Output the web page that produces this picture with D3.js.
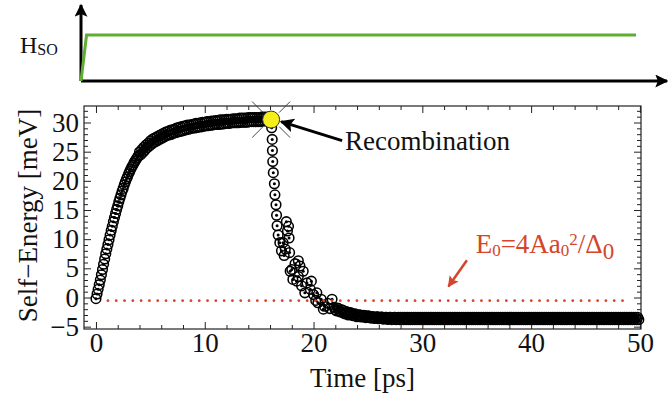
<!DOCTYPE html>
<html>
<head>
<meta charset="UTF-8">
<script src="https://d3js.org/d3.v7.min.js"></script>
<style>
  body { margin: 0; background: #fff; }
  text { font-family: "Liberation Serif", "DejaVu Serif", serif; }
</style>
</head>
<body>
<svg class="chart"></svg>
<script>

var width = 668,
    height = 398;

// build-up of the self-energy, t = 0 .. 16 ps every 0.1 ps
// (the band is thick after ~4 ps, so neighbouring points spread a little)
var riseStart = 0, riseStep = 0.1;
var riseE = [
  -0.2, 0.6, 1.4, 2.2, 3.0, 3.9, 4.8, 5.7, 6.6, 7.5,
  8.3, 9.1, 9.9, 10.7, 11.5, 12.2, 13.0, 13.7, 14.4, 15.1,
  15.7, 16.4, 17.0, 17.6, 18.2, 18.7, 19.3, 19.8, 20.3, 20.7,
  21.2, 21.6, 22.0, 22.4, 22.7, 23.1, 23.4, 23.7, 24.0, 24.3,
  24.95, 24.45, 25.35, 24.85, 25.75, 25.25, 26.15, 25.65, 26.45, 25.95,
  26.85, 26.25, 27.15, 26.55, 27.35, 26.75, 27.55, 26.95, 27.75, 27.15,
  27.95, 27.35, 28.15, 27.55, 28.35, 27.75, 28.45, 27.85, 28.65, 27.95,
  28.75, 28.15, 28.85, 28.25, 29.05, 28.35, 29.15, 28.45, 29.25, 28.55,
  29.35, 28.65, 29.45, 28.75, 29.55, 28.85, 29.55, 28.95, 29.65, 29.05,
  29.75, 29.05, 29.85, 29.15, 29.85, 29.25, 29.95, 29.25, 30.05, 29.35,
  30.05, 29.45, 30.15, 29.45, 30.15, 29.55, 30.25, 29.55, 30.25, 29.65,
  30.35, 29.65, 30.35, 29.65, 30.45, 29.75, 30.45, 29.75, 30.45, 29.85,
  30.55, 29.85, 30.55, 29.85, 30.55, 29.95, 30.65, 29.95, 30.65, 29.95,
  30.65, 29.95, 30.75, 30.05, 30.75, 30.05, 30.75, 30.05, 30.75, 30.05,
  30.85, 30.15, 30.85, 30.15, 30.85, 30.15, 30.85, 30.15, 30.85, 30.15,
  30.85, 30.15, 30.95, 30.25, 30.95, 30.25, 30.95, 30.25, 30.95, 30.25,
  30.95
];

// collapse after recombination (scattered points)
var decayT = [16.15, 16.2, 16.22, 16.25, 16.3, 16.4, 16.45, 16.55, 16.6, 16.65,
              16.75, 16.9, 17.05, 17.2, 17.3, 17.4, 17.5, 17.6, 17.7, 17.75,
              17.8, 17.85, 18.0, 18.1, 18.3, 18.45, 18.6, 18.6, 18.75, 18.9,
              19.05, 19.2, 19.4, 19.7, 19.8, 20.0, 20.2, 20.3, 20.4, 20.7,
              21.0, 21.3, 21.7, 20.9, 21.5];
var decayE = [29.1, 27.1, 25.2, 23.3, 21.4, 19.5, 17.6, 15.9, 14.1, 12.3,
              10.7, 9.4, 8.0, 9.4, 7.2, 8.3, 13.0, 11.4, 12.2, 10.2,
              7.7, 4.5, 4.8, 3.1, 5.8, 2.8, 6.3, 3.6, 5.4, 2.0,
              4.5, 0.8, 2.5, 1.4, 2.8, 0.5, -0.5, 0.8, -0.9, -0.3,
              -1.5, -1.0, -0.3, -2.0, -1.9];

// relaxation tail, t = 21.9 .. 49.9 every 0.1 ps
var tailStart = 21.9, tailStep = 0.1;
var tailE = [
  -1.7, -2.1, -2.3, -1.8, -1.9, -2.4, -2.5, -2.1, -2.2, -2.7,
  -2.8, -2.4, -2.5, -3.0, -2.9, -2.6, -2.7, -3.1, -3.1, -2.8,
  -2.9, -3.3, -3.2, -2.95, -3.0, -3.35, -3.3, -3.05, -3.1, -3.45,
  -3.4, -3.15, -3.2, -3.5, -3.5, -3.25, -3.3, -3.6, -3.5, -3.3,
  -3.3, -3.65, -3.6, -3.35, -3.35, -3.7, -3.65, -3.4, -3.4, -3.75,
  -3.7, -3.4, -3.4, -3.8, -3.75, -3.4, -3.4, -3.8, -3.75, -3.4,
  -3.8, -3.4, -3.8, -3.4, -3.8, -3.4, -3.8, -3.4, -3.8, -3.4,
  -3.8, -3.4, -3.8, -3.4, -3.8, -3.4, -3.8, -3.4, -3.8, -3.4,
  -3.8, -3.4, -3.8, -3.4, -3.8, -3.4, -3.8, -3.4, -3.8, -3.4,
  -3.8, -3.4, -3.8, -3.4, -3.8, -3.4, -3.8, -3.4, -3.8, -3.4,
  -3.8, -3.4, -3.8, -3.4, -3.8, -3.4, -3.8, -3.4, -3.8, -3.4,
  -3.8, -3.4, -3.8, -3.4, -3.8, -3.4, -3.8, -3.4, -3.8, -3.4,
  -3.8, -3.4, -3.8, -3.4, -3.8, -3.4, -3.8, -3.4, -3.8, -3.4,
  -3.8, -3.4, -3.8, -3.4, -3.8, -3.4, -3.8, -3.4, -3.8, -3.4,
  -3.8, -3.4, -3.8, -3.4, -3.8, -3.4, -3.8, -3.4, -3.8, -3.4,
  -3.8, -3.4, -3.8, -3.4, -3.8, -3.4, -3.8, -3.4, -3.8, -3.4,
  -3.8, -3.4, -3.8, -3.4, -3.8, -3.4, -3.8, -3.4, -3.8, -3.4,
  -3.8, -3.4, -3.8, -3.4, -3.8, -3.4, -3.8, -3.4, -3.8, -3.4,
  -3.8, -3.4, -3.8, -3.4, -3.8, -3.4, -3.8, -3.4, -3.8, -3.4,
  -3.8, -3.4, -3.8, -3.4, -3.8, -3.4, -3.8, -3.4, -3.8, -3.4,
  -3.8, -3.4, -3.8, -3.4, -3.8, -3.4, -3.8, -3.4, -3.8, -3.4,
  -3.8, -3.4, -3.8, -3.4, -3.8, -3.4, -3.8, -3.4, -3.8, -3.4,
  -3.8, -3.4, -3.8, -3.4, -3.8, -3.4, -3.8, -3.4, -3.8, -3.4,
  -3.8, -3.4, -3.8, -3.4, -3.8, -3.4, -3.8, -3.4, -3.8, -3.4,
  -3.8, -3.4, -3.8, -3.4, -3.8, -3.4, -3.8, -3.4, -3.8, -3.4,
  -3.8, -3.4, -3.8, -3.4, -3.8, -3.4, -3.8, -3.4, -3.8, -3.4,
  -3.8, -3.4, -3.8, -3.4, -3.8, -3.4, -3.8, -3.4, -3.8, -3.4,
  -3.8, -3.4, -3.8, -3.4, -3.8, -3.4, -3.8, -3.4, -3.8, -3.4,
  -3.8
];

var recombination = {t: 16.1, e: 30.5};
var e0Level = -0.55, e0Span = [1.1, 49.1];
var e0Arrow = [[34.1, 6.4], [32.4, 1.9]];

var xTicks = [0, 10, 20, 30, 40, 50];
var yTicks = [-5, 0, 5, 10, 15, 20, 25, 30];

// H_SO switched on at t = 0 (schematic, arbitrary units)
var hsoT = [0, 1, 100];
var hsoV = [0, 1, 1];

var points = [];
riseE.forEach(function(e, i) { points.push({t: riseStart + i * riseStep, e: e}); });
decayT.forEach(function(t, i) { points.push({t: t, e: decayE[i]}); });
tailE.forEach(function(e, i) { points.push({t: tailStart + i * tailStep, e: e}); });

var chart = d3.select(".chart")
  .attr("width", width)
  .attr("height", height);

chart.append("rect").attr("width", width).attr("height", height).attr("fill", "#fff");

var defs = chart.append("defs");
function marker(id, color, w, h) {
  defs.append("marker")
    .attr("id", id)
    .attr("viewBox", "0 0 10 10")
    .attr("refX", 9).attr("refY", 5)
    .attr("markerUnits", "userSpaceOnUse")
    .attr("markerWidth", w).attr("markerHeight", h)
    .attr("orient", "auto")
    .append("path").attr("d", "M0,0 L10,5 L0,10 L2,5 z").attr("fill", color);
}
marker("headAxis", "#000", 14, 13);
marker("headRec", "#000", 18, 14);
marker("headRed", "#d4452b", 12, 11);

// ---- top schematic ----
var hx = d3.scaleLinear().domain([0, 100]).range([81, 636]);
var hy = d3.scaleLinear().domain([0, 1]).range([81, 35]);

chart.append("line")
  .attr("x1", hx(0)).attr("y1", hy(0))
  .attr("x2", hx(0)).attr("y2", 5)
  .attr("stroke", "#000").attr("stroke-width", 3)
  .attr("marker-end", "url(#headAxis)");
chart.append("line")
  .attr("x1", hx(0)).attr("y1", hy(0))
  .attr("x2", 667).attr("y2", hy(0))
  .attr("stroke", "#000").attr("stroke-width", 3)
  .attr("marker-end", "url(#headAxis)");

chart.append("path")
  .datum(hsoT.map(function(t, i) { return [t, hsoV[i]]; }))
  .attr("fill", "none")
  .attr("stroke", "#5fae34")
  .attr("stroke-width", 3)
  .attr("d", d3.line().x(function(d) { return hx(d[0]); }).y(function(d) { return hy(d[1]); }));

var hso = chart.append("text").attr("x", 20).attr("y", 53).attr("font-size", 24).attr("fill", "#111");
hso.append("tspan").text("H");
hso.append("tspan").attr("font-size", 16).attr("dy", 2).text("SO");

// ---- main plot ----
var plotLeft = 84, plotRight = 641, plotTop = 106, plotBottom = 329;
var x = d3.scaleLinear().domain([-1.1, 50.1]).range([plotLeft, plotRight]);
var y = d3.scaleLinear().domain([-5.4, 32.83]).range([plotBottom, plotTop]);

function fmt(d) { return d < 0 ? "\u2212" + Math.abs(d) : String(d); }

var xMinor = d3.range(0, 51, 2).filter(function(d) { return d % 10 !== 0; });
var yMinor = d3.range(-5, 33, 1).filter(function(d) { return d % 5 !== 0; });

function styleAxis(g) {
  g.attr("font-family", "'Liberation Serif', serif");
  g.select(".domain").remove();
  g.selectAll("line").attr("stroke", "#222");
  g.selectAll("text").attr("font-size", 27).attr("fill", "#111")
    .style("font-family", "'Liberation Serif', serif");
}

chart.append("g").attr("transform", "translate(0," + plotBottom + ")")
  .call(d3.axisBottom(x).tickValues(xTicks).tickFormat(fmt).tickSizeInner(-7).tickSizeOuter(0).tickPadding(4))
  .call(styleAxis);
chart.append("g").attr("transform", "translate(0," + plotBottom + ")")
  .call(d3.axisBottom(x).tickValues(xMinor).tickFormat("").tickSizeInner(-4).tickSizeOuter(0))
  .call(styleAxis);
chart.append("g").attr("transform", "translate(0," + plotTop + ")")
  .call(d3.axisTop(x).tickValues(xTicks).tickFormat("").tickSizeInner(-7).tickSizeOuter(0))
  .call(styleAxis);
chart.append("g").attr("transform", "translate(0," + plotTop + ")")
  .call(d3.axisTop(x).tickValues(xMinor).tickFormat("").tickSizeInner(-4).tickSizeOuter(0))
  .call(styleAxis);

chart.append("g").attr("transform", "translate(" + plotLeft + ",0)")
  .call(d3.axisLeft(y).tickValues(yTicks).tickFormat(fmt).tickSizeInner(-7).tickSizeOuter(0).tickPadding(5))
  .call(styleAxis);
chart.append("g").attr("transform", "translate(" + plotLeft + ",0)")
  .call(d3.axisLeft(y).tickValues(yMinor).tickFormat("").tickSizeInner(-4).tickSizeOuter(0))
  .call(styleAxis);
chart.append("g").attr("transform", "translate(" + plotRight + ",0)")
  .call(d3.axisRight(y).tickValues(yTicks).tickFormat("").tickSizeInner(-7).tickSizeOuter(0))
  .call(styleAxis);
chart.append("g").attr("transform", "translate(" + plotRight + ",0)")
  .call(d3.axisRight(y).tickValues(yMinor).tickFormat("").tickSizeInner(-4).tickSizeOuter(0))
  .call(styleAxis);

chart.append("rect")
  .attr("x", plotLeft).attr("y", plotTop)
  .attr("width", plotRight - plotLeft).attr("height", plotBottom - plotTop)
  .attr("fill", "none").attr("stroke", "#222").attr("stroke-width", 1.2);

// data: open circles with a dot
var pts = chart.append("g").attr("class", "points");
pts.selectAll("circle.ring")
  .data(points)
  .enter().append("circle")
  .attr("class", "ring")
  .attr("cx", function(d) { return x(d.t); })
  .attr("cy", function(d) { return y(d.e); })
  .attr("r", 4.8)
  .attr("fill", "none")
  .attr("stroke", "#000")
  .attr("stroke-width", 1.55);
pts.selectAll("circle.dot")
  .data(points)
  .enter().append("circle")
  .attr("class", "dot")
  .attr("cx", function(d) { return x(d.t); })
  .attr("cy", function(d) { return y(d.e); })
  .attr("r", 1.5)
  .attr("fill", "#000");

// E0 reference level
chart.append("line")
  .attr("x1", x(e0Span[0])).attr("x2", x(e0Span[1]))
  .attr("y1", y(e0Level)).attr("y2", y(e0Level))
  .attr("stroke", "#d9472b")
  .attr("stroke-width", 2.8)
  .attr("stroke-linecap", "round")
  .attr("stroke-dasharray", "0 8.3");

chart.append("line")
  .attr("x1", x(e0Arrow[0][0])).attr("y1", y(e0Arrow[0][1]))
  .attr("x2", x(e0Arrow[1][0])).attr("y2", y(e0Arrow[1][1]))
  .attr("stroke", "#d4452b").attr("stroke-width", 2.5)
  .attr("marker-end", "url(#headRed)");

var e0 = chart.append("text")
  .attr("x", x(34.9)).attr("y", y(7.6))
  .attr("font-size", 27).attr("fill", "#d4452b");
e0.append("tspan").text("E");
e0.append("tspan").attr("font-size", 17).attr("dy", 3).text("0");
e0.append("tspan").attr("dy", -3).text("=4Aa");
e0.append("tspan").attr("font-size", 17).attr("dy", 3).text("0");
e0.append("tspan").attr("font-size", 17).attr("dy", -11).text("2");
e0.append("tspan").attr("dy", 8).text("/\u0394");
e0.append("tspan").attr("font-size", 23).attr("dy", 6).text("0");

// recombination marker
var rx = x(recombination.t), ry = y(recombination.e);
[[-1, -1], [1, -1], [-1, 1], [1, 1]].forEach(function(s) {
  chart.append("line")
    .attr("x1", rx + s[0] * 19).attr("y1", ry + s[1] * 18)
    .attr("x2", rx + s[0] * 8).attr("y2", ry + s[1] * 7)
    .attr("stroke", "#333").attr("stroke-width", 0.9);
});
chart.append("circle")
  .attr("cx", rx).attr("cy", ry).attr("r", 8.5)
  .attr("fill", "#f6ee1c").attr("stroke", "#333").attr("stroke-width", 1);

chart.append("line")
  .attr("x1", rx + 71).attr("y1", ry + 21)
  .attr("x2", rx + 10).attr("y2", ry + 2)
  .attr("stroke", "#000").attr("stroke-width", 3)
  .attr("marker-end", "url(#headRec)");

chart.append("text")
  .attr("x", rx + 74).attr("y", ry + 30)
  .attr("font-size", 27).attr("fill", "#111")
  .text("Recombination");

// axis titles
chart.append("text")
  .attr("x", (plotLeft + plotRight) / 2).attr("y", 387)
  .attr("text-anchor", "middle")
  .attr("font-size", 27).attr("fill", "#111")
  .text("Time [ps]");

chart.append("text")
  .attr("transform", "translate(37," + ((plotTop + plotBottom) / 2 - 2) + ") rotate(-90)")
  .attr("text-anchor", "middle")
  .attr("font-size", 27).attr("fill", "#111")
  .text("Self\u2212Energy [meV]");

</script>
</body>
</html>
